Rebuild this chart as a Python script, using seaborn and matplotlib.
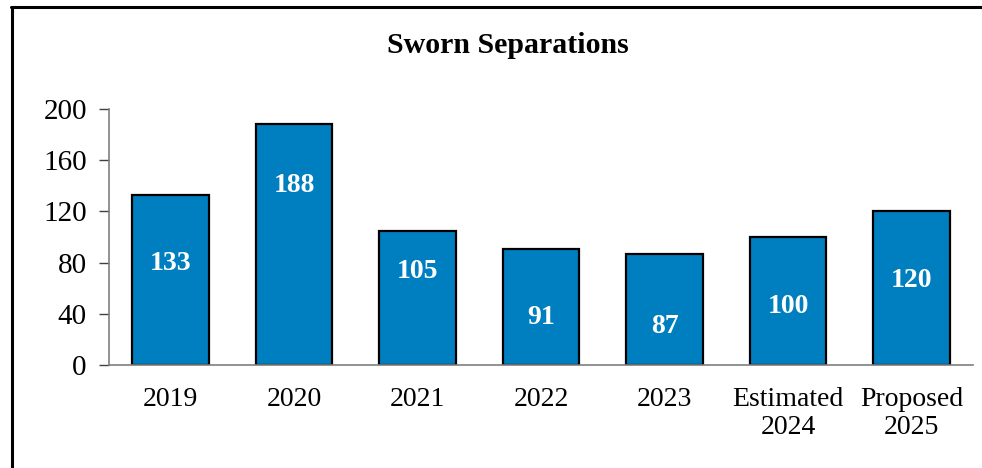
import matplotlib
matplotlib.use("Agg")
import matplotlib.pyplot as plt
from matplotlib.lines import Line2D
import seaborn as sns
import pandas as pd

categories = ["2019", "2020", "2021", "2022", "2023", "Estimated\n2024", "Proposed\n2025"]
values = [133, 188, 105, 91, 87, 100, 120]
label_heights = [79, 140, 73, 37, 30, 46, 66]
yticks = [0, 40, 80, 120, 160, 200]
title = "Sworn Separations"

sns.set_theme(style="white")
plt.rcParams["font.family"] = ["Liberation Serif", "DejaVu Serif"]
plt.rcParams["text.color"] = "black"

df = pd.DataFrame({"cat": categories, "val": values})

fig = plt.figure(figsize=(9.82, 4.68), dpi=100)
ax = fig.add_axes([0.111, 0.220, 0.880, 0.547])

sns.barplot(data=df, x="cat", y="val", color="#007FC0", saturation=1,
            edgecolor="black", linewidth=1.6, width=0.62, ax=ax)

for i, (v, h) in enumerate(zip(values, label_heights)):
    ax.text(i, h, str(v), ha="center", va="center", color="white",
            fontsize=20, fontweight="bold")

ax.set_xlim(-0.5, len(categories) - 0.5)
ax.set_ylim(0, 200)
ax.set_yticks(yticks)
ax.set_xlabel("")
ax.set_ylabel("")
for s in ["top", "right"]:
    ax.spines[s].set_visible(False)
for s in ["left", "bottom"]:
    ax.spines[s].set_color("#7f7f7f")
    ax.spines[s].set_linewidth(1.2)
ax.tick_params(axis="y", which="major", left=True, length=7, width=1.0,
               color="#404040", direction="out", pad=9, labelsize=21, labelcolor="black")
ax.tick_params(axis="x", bottom=False, length=0, pad=16, labelsize=20, labelcolor="black")
for lbl in ax.get_xticklabels():
    lbl.set_linespacing(1.12)

fig.text(0.517, 0.903, title, ha="center", va="center", fontsize=21.5,
         fontweight="bold", color="black")

# outer frame (left and top edges)
fig.add_artist(Line2D([0.0118, 0.0118], [0.0, 0.986], transform=fig.transFigure,
                      color="black", linewidth=2.2))
fig.add_artist(Line2D([0.0108, 1.0], [0.986, 0.986], transform=fig.transFigure,
                      color="black", linewidth=2.2))

fig.savefig("out.png", dpi=100, facecolor="white")
